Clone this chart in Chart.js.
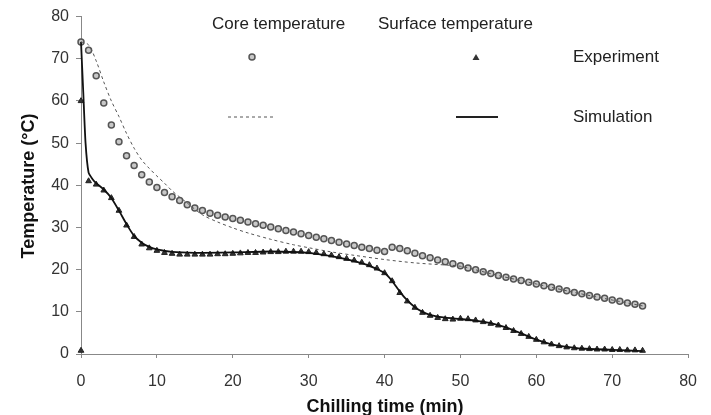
<!DOCTYPE html>
<html lang="en">
<head>
<meta charset="UTF-8">
<script src="https://cdn.jsdelivr.net/npm/chart.js@4.4.1/dist/chart.umd.min.js"></script>
<title>Chilling curves</title>
<style>
  html, body { margin: 0; padding: 0; background: #fff; }
  #wrap { width: 711px; height: 415px; }
</style>
</head>
<body>
<div id="wrap"><canvas id="chart" width="711" height="415"></canvas></div>
<script>
// experimental readings, one per minute
const expTime = [0,1,2,3,4,5,6,7,8,9,10,11,12,13,14,15,16,17,18,19,20,21,22,23,24,25,26,27,28,29,30,31,32,33,34,35,36,37,38,39,40,41,42,43,44,45,46,47,48,49,50,51,52,53,54,55,56,57,58,59,60,61,62,63,64,65,66,67,68,69,70,71,72,73,74];
const coreExp = [74,72,66,59.5,54.3,50.3,47,44.7,42.5,40.8,39.5,38.3,37.3,36.4,35.4,34.6,34,33.4,32.9,32.5,32.1,31.7,31.3,30.9,30.5,30.1,29.7,29.3,28.9,28.5,28.1,27.7,27.3,26.9,26.5,26.1,25.7,25.3,25,24.6,24.3,25.3,25,24.5,23.9,23.3,22.8,22.3,21.9,21.4,20.9,20.4,20,19.5,19.1,18.6,18.2,17.8,17.4,17,16.6,16.2,15.8,15.4,15,14.6,14.3,13.9,13.5,13.2,12.8,12.5,12.1,11.8,11.4];
const surfExp = [60,41,40.2,38.8,37,34,30.5,27.8,26,25.1,24.5,24,23.8,23.6,23.6,23.6,23.6,23.6,23.7,23.7,23.8,23.9,24,24,24.1,24.2,24.2,24.3,24.3,24.3,24.2,24,23.7,23.4,23,22.6,22.2,21.7,21.1,20.3,19.2,17.3,14.5,12.5,11,9.8,9.1,8.6,8.3,8.2,8.4,8.3,8,7.6,7.2,6.8,6.2,5.5,4.8,4.1,3.4,2.8,2.3,1.9,1.6,1.4,1.3,1.2,1.1,1.1,1,1,0.9,0.9,0.8];
// stray surface reading at t = 0
const surfStartTime = [0];
const surfStart = [0.8];

// simulation curves
const simCoreTime = [0,1,2,3,4,5,6,7,8,9,10,11,12,13,14,16,18,20,22,25,28,30,33,36,40,44,48,50,55,60,65,70,74];
const simCore = [74,73.3,69.5,64.5,60,56.3,52.3,48.8,46,44,42.2,40.5,38.7,37.2,35.8,33,31.3,29.9,28.7,27.2,25.9,25.2,24.2,23.4,22.4,21.6,21.1,20.8,18.6,16.6,14.6,12.8,11.4];
const simSurfTime = [0,0.3,0.6,1,1.5,2,3,4,5,6,7,8,9,10,12,15,20,25,30,33,36,38,40,41,42,43,44,45,46,48,50,52,54,56,58,60,62,64,66,70,74];
const simSurf = [74,62,50,43,41.5,40.5,39,37,34,30.8,28,26.4,25.4,24.8,24.2,24,24.1,24.3,24,23.2,22,20.9,19.2,17.3,14.8,12.7,11.1,10,9.3,8.6,8.3,7.9,7.3,6.3,4.9,3.4,2.3,1.7,1.3,1,0.7];

const xTicks = [0,10,20,30,40,50,60,70,80];
const yTicks = [0,10,20,30,40,50,60,70,80];

function pts(xs, ys) {
    return xs.map((x, i) => ({ x: x, y: ys[i] }));
}

const FONT = 'Arial, "Liberation Sans", sans-serif';

const circleStyle = { pointStyle: 'circle', pointRadius: 3, pointBorderWidth: 1.5, borderColor: '#555', backgroundColor: '#c8c8c8' };
const triStyle = { pointStyle: 'triangle', pointRadius: 3.3, pointBorderWidth: 1, borderColor: '#222', backgroundColor: '#333' };

// legend and axis titles drawn at fixed spots, like the figure
const figPlugin = {
    id: 'figText',
    afterDraw(chart) {
        const ctx = chart.ctx;
        ctx.save();
        ctx.fillStyle = '#222';
        ctx.font = '17px ' + FONT;
        ctx.textBaseline = 'middle';
        ctx.textAlign = 'left';
        ctx.fillText('Core temperature', 212, 24);
        ctx.fillText('Surface temperature', 378, 24);
        ctx.fillText('Experiment', 573, 57);
        ctx.fillText('Simulation', 573, 117);

        // axis titles
        ctx.fillStyle = '#111';
        ctx.font = 'bold 18px ' + FONT;
        ctx.textAlign = 'center';
        ctx.fillText('Chilling time (min)', 385, 407);
        ctx.save();
        ctx.translate(29, 186);
        ctx.rotate(-Math.PI / 2);
        ctx.fillText('Temperature (°C)', 0, 0);
        ctx.restore();

        // circle marker
        ctx.beginPath();
        ctx.arc(252, 57, 3, 0, Math.PI * 2);
        ctx.fillStyle = '#c8c8c8';
        ctx.fill();
        ctx.lineWidth = 1.5;
        ctx.strokeStyle = '#555';
        ctx.stroke();

        // triangle marker
        ctx.beginPath();
        ctx.moveTo(476, 54);
        ctx.lineTo(479.5, 60);
        ctx.lineTo(472.5, 60);
        ctx.closePath();
        ctx.fillStyle = '#333';
        ctx.fill();

        // dashed line
        ctx.beginPath();
        ctx.setLineDash([3, 3]);
        ctx.lineWidth = 1;
        ctx.strokeStyle = '#555';
        ctx.moveTo(228, 117);
        ctx.lineTo(275, 117);
        ctx.stroke();

        // solid line
        ctx.beginPath();
        ctx.setLineDash([]);
        ctx.lineWidth = 1.8;
        ctx.strokeStyle = '#222';
        ctx.moveTo(456, 117);
        ctx.lineTo(498, 117);
        ctx.stroke();
        ctx.restore();
    }
};

new Chart(document.getElementById('chart').getContext('2d'), {
    type: 'scatter',
    data: {
        datasets: [
            { label: 'Core simulation', data: pts(simCoreTime, simCore), showLine: true, borderColor: '#555', borderWidth: 1, borderDash: [3, 3], pointRadius: 0, tension: 0.3 },
            { label: 'Surface simulation', data: pts(simSurfTime, simSurf), showLine: true, borderColor: '#111', borderWidth: 1.8, pointRadius: 0, tension: 0.2 },
            Object.assign({ label: 'Core experiment', data: pts(expTime, coreExp), showLine: false }, circleStyle),
            Object.assign({ label: 'Surface experiment', data: pts(expTime, surfExp), showLine: false }, triStyle),
            Object.assign({ label: 'Surface start', data: pts(surfStartTime, surfStart), showLine: false }, triStyle)
        ]
    },
    options: {
        responsive: false,
        animation: false,
        clip: false,
        layout: { padding: { top: 15, right: 21, left: 0, bottom: 0 } },
        plugins: { legend: { display: false }, tooltip: { enabled: false } },
        scales: {
            x: {
                type: 'linear', min: 0, max: 80,
                afterBuildTicks(scale) { scale.ticks = xTicks.map(v => ({ value: v })); },
                afterFit(scale) { scale.height = 61; },
                grid: { drawOnChartArea: false, tickLength: 4, color: '#888' },
                border: { color: '#888', dash: [2, 2] },
                ticks: { color: '#333', font: { family: FONT, size: 16 }, padding: 14 }
            },
            y: {
                type: 'linear', min: 0, max: 80,
                afterBuildTicks(scale) { scale.ticks = yTicks.map(v => ({ value: v })); },
                afterFit(scale) { scale.width = 81; },
                grid: { drawOnChartArea: false, tickLength: 5, color: '#888' },
                border: { color: '#888', dash: [2, 2] },
                ticks: { color: '#333', font: { family: FONT, size: 16 }, padding: 7 }
            }
        }
    },
    plugins: [figPlugin]
});
</script>
</body>
</html>
